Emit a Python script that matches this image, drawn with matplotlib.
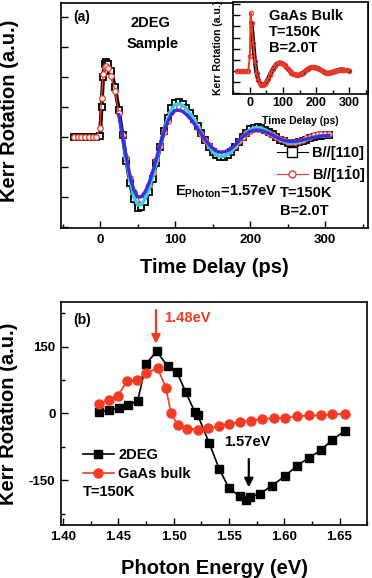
import matplotlib
matplotlib.use('Agg')
import matplotlib.pyplot as plt
from matplotlib.ticker import MultipleLocator, FormatStrFormatter, NullFormatter
from matplotlib.lines import Line2D

plt.rcParams['font.family'] = ['Liberation Sans', 'DejaVu Sans']
plt.rcParams['font.weight'] = 'bold'
plt.rcParams['axes.unicode_minus'] = False
plt.rcParams['mathtext.fontset'] = 'custom'
plt.rcParams['mathtext.rm'] = 'Liberation Sans:bold'
plt.rcParams['mathtext.bf'] = 'Liberation Sans:bold'

# ---- panel (a): time resolved Kerr rotation, 2DEG sample ----
t_early = [-35, -30, -25, -20, -15, -10, -5, 0, 2, 4, 6, 8, 10, 15, 20]
t_fit = [25, 30, 35, 40, 45, 50, 55, 60, 65, 70, 75, 80, 85, 90, 95, 100,
         105, 110, 115, 120, 125, 130, 135, 140, 145, 150, 155, 160, 165,
         170, 175, 180, 185, 190, 195, 200, 205, 210, 215, 220, 225, 230,
         235, 240, 245, 250, 255, 260, 265, 270, 275, 280, 285, 290, 295,
         300, 305]
t_data = t_early + t_fit

kerr_110 = [0, 0, 0, 0, 0, 0, 0, 0.05, 1.0, 2.0, 2.45, 2.5, 2.45, 2.2, 1.66,
            0.91, 0.07, -0.78, -1.53, -2.07, -2.35, -2.34, -2.16, -1.83,
            -1.39, -0.87, -0.33, 0.19, 0.63, 0.96, 1.14, 1.16, 1.11, 0.99,
            0.82, 0.61, 0.37, 0.13, -0.11, -0.32, -0.49, -0.61, -0.67, -0.66,
            -0.60, -0.49, -0.34, -0.17, 0.0, 0.15, 0.26, 0.32, 0.33, 0.30,
            0.25, 0.18, 0.09, 0.0, -0.08, -0.14, -0.19, -0.20, -0.19, -0.16,
            -0.12, -0.08, -0.04, 0.0, 0.03, 0.05, 0.07, 0.08]
kerr_1m10 = [0, 0, 0, 0, 0, 0, 0, 0.3, 1.3, 2.1, 2.35, 2.38, 2.3, 2.05, 1.55,
             0.80, 0.06, -0.68, -1.35, -1.83, -2.06, -2.05, -1.90, -1.60,
             -1.21, -0.75, -0.28, 0.17, 0.55, 0.85, 1.00, 1.02, 0.97, 0.86,
             0.71, 0.53, 0.32, 0.11, -0.09, -0.27, -0.42, -0.52, -0.57, -0.56,
             -0.51, -0.41, -0.29, -0.14, 0.0, 0.13, 0.22, 0.27, 0.28, 0.26,
             0.21, 0.15, 0.08, 0.0, -0.06, -0.11, -0.15, -0.16, -0.15, -0.12,
             -0.08, -0.03, 0.02, 0.06, 0.09, 0.11, 0.12, 0.12]
fit_110 = [0.87, 0.07, -0.75, -1.47, -1.99, -2.26, -2.25, -2.07, -1.76,
           -1.33, -0.84, -0.32, 0.18, 0.60, 0.92, 1.09, 1.11, 1.07, 0.95,
           0.79, 0.59, 0.36, 0.12, -0.11, -0.31, -0.47, -0.59, -0.64, -0.63,
           -0.58, -0.47, -0.33, -0.16, 0.0, 0.14, 0.25, 0.31, 0.32, 0.29,
           0.24, 0.17, 0.09, 0.0, -0.08, -0.13, -0.18, -0.19, -0.18, -0.15,
           -0.12, -0.08, -0.04, 0.0, 0.03, 0.04, 0.05, 0.06]
fit_1m10 = [0.75, 0.05, -0.66, -1.30, -1.76, -1.99, -1.99, -1.83, -1.55,
            -1.17, -0.73, -0.27, 0.15, 0.50, 0.76, 0.89, 0.90, 0.86, 0.76,
            0.63, 0.47, 0.28, 0.10, -0.08, -0.24, -0.37, -0.46, -0.50, -0.49,
            -0.45, -0.37, -0.26, -0.13, 0.0, 0.11, 0.19, 0.23, 0.24, 0.22,
            0.18, 0.13, 0.07, 0.0, -0.06, -0.10, -0.14, -0.15, -0.14, -0.12,
            -0.09, -0.06, -0.03, 0.0, 0.02, 0.04, 0.05, 0.06]

# inset: GaAs bulk
t_bulk = [-40, -35, -30, -25, -20, -15, -10, -5, 0, 2, 5, 10, 15, 20, 25, 30,
          35, 40, 45, 50, 55, 60, 65, 70, 75, 80, 85, 90, 95, 100, 105, 110,
          115, 120, 125, 130, 135, 140, 145, 150, 155, 160, 165, 170, 175,
          180, 185, 190, 195, 200, 205, 210, 215, 220, 225, 230, 235, 240,
          245, 250, 255, 260, 265, 270, 275, 280, 285, 290, 295, 300]
kerr_bulk = [0, 0, 0, 0, 0, 0, 0, 0, 1.3, 5.2, 4.3, 2.5, 0.9, -0.18, -0.8,
             -1.12, -1.26, -1.28, -1.18, -1.0, -0.72, -0.4, -0.09, 0.18, 0.4,
             0.58, 0.7, 0.74, 0.72, 0.65, 0.52, 0.36, 0.18, 0.0, -0.16, -0.27,
             -0.34, -0.38, -0.38, -0.34, -0.27, -0.18, -0.07, 0.05, 0.16, 0.25,
             0.32, 0.34, 0.33, 0.29, 0.22, 0.13, 0.04, -0.05, -0.12, -0.16,
             -0.18, -0.18, -0.15, -0.11, -0.05, 0.0, 0.05, 0.09, 0.11, 0.11,
             0.09, 0.05, 0.03, 0.0]

# ---- panel (b): Kerr rotation vs photon energy ----
e_2deg = [1.4322, 1.4412, 1.4502, 1.4584, 1.4674, 1.4749, 1.4845, 1.4945,
          1.5029, 1.5110, 1.5191, 1.5218, 1.5320, 1.5411, 1.5501, 1.5600,
          1.5655, 1.5690, 1.5781, 1.5886, 1.6004, 1.6112, 1.6223, 1.6329,
          1.6434, 1.6545]
kr_2deg = [3, 7, 13, 19, 28, 111, 139, 106, 92, 47, 3, -4, -66, -124, -168,
           -186, -193, -187, -180, -162, -141, -118, -99, -83, -59, -40]
e_bulk = [1.4322, 1.4412, 1.4494, 1.4578, 1.4668, 1.4749, 1.4855, 1.4930,
          1.4975, 1.5035, 1.5119, 1.5216, 1.5311, 1.5411, 1.5501, 1.5600,
          1.5697, 1.5802, 1.5907, 1.6004, 1.6112, 1.6223, 1.6329, 1.6434,
          1.6545]
kr_bulk = [21.6, 31, 40, 72, 75, 91, 101, 57, 0, -25, -34, -36, -33, -29,
           -23, -19, -16, -12, -11, -9.7, -6.7, -4.5, -4.5, -2.2, -0.7]

red = '#e8392a'
red_b = '#f53a22'

fig = plt.figure(figsize=(3.72, 5.78), dpi=100)

ax1 = fig.add_axes([0.164, 0.6055, 0.825, 0.389])
ax1.plot(t_data, kerr_110, '-s', color='black', mfc='white', mec='black',
         ms=5, mew=1.3, lw=2.8, zorder=2)
ax1.plot(t_data, kerr_1m10, '-o', color=red, mfc='white', mec=red,
         ms=4, mew=0.9, lw=1.0, zorder=3)
ax1.plot(t_fit[1:], fit_110[1:], color='#2fd3e6', lw=2.4, zorder=4)
ax1.plot(t_fit, fit_1m10, color='#3a2ee0', lw=2.4, zorder=5)
ax1.set_xlim(-52, 357)
ax1.set_ylim(-3.03, 4.47)
ax1.xaxis.set_major_locator(MultipleLocator(100))
ax1.xaxis.set_minor_locator(MultipleLocator(50))
ax1.yaxis.set_major_locator(MultipleLocator(1))
ax1.yaxis.set_major_formatter(NullFormatter())
ax1.set_xlabel('Time Delay (ps)', fontsize=14.5, fontweight='bold', labelpad=9)
ax1.set_ylabel('Kerr Rotation (a.u.)', fontsize=14.5, fontweight='bold')
ax1.yaxis.set_label_coords(-0.137, 0.52)

ax1.text(0.068, 0.938, '(a)', transform=ax1.transAxes, fontsize=10,
         ha='center', va='center')
ax1.text(0.29, 0.911, '2DEG', transform=ax1.transAxes, fontsize=10.5,
         ha='center', va='center')
ax1.text(0.30, 0.818, 'Sample', transform=ax1.transAxes, fontsize=10.5,
         ha='center', va='center')
ax1.text(0.371, 0.16, r'E$_{\mathbf{Photon}}$=1.57eV', transform=ax1.transAxes,
         fontsize=10.5, ha='left', va='center')

h1 = [Line2D([], [], color='black', marker='s', mfc='white', mec='black',
             ms=6.5, lw=0.8),
      Line2D([], [], color=red, marker='o', mfc='white', mec=red, ms=5,
             lw=0.8)]
leg1 = ax1.legend(h1, ['B//[110]', r'B//[1$\bar{\mathbf{1}}$0]'],
                  loc='upper left', bbox_to_anchor=(0.704, 0.365),
                  frameon=False, fontsize=10.5, handlelength=2.1,
                  handletextpad=0.3, labelspacing=0.3, borderpad=0,
                  borderaxespad=0)
ax1.text(0.713, 0.156, 'T=150K', transform=ax1.transAxes, fontsize=10.5,
         ha='left', va='center')
ax1.text(0.713, 0.076, 'B=2.0T', transform=ax1.transAxes, fontsize=10.5,
         ha='left', va='center')

ax_in = fig.add_axes([0.6255, 0.8374, 0.3637, 0.159])
ax_in.plot(t_bulk[10:], kerr_bulk[10:], color='black', lw=3.0, zorder=2)
ax_in.plot(t_bulk, kerr_bulk, '-o', color=red, mfc='none', mec=red,
           ms=3, mew=0.9, lw=1.4, zorder=3)
ax_in.set_xlim(-52, 357)
ax_in.set_ylim(-2.1, 6.2)
ax_in.xaxis.set_major_locator(MultipleLocator(100))
ax_in.xaxis.set_minor_locator(MultipleLocator(50))
ax_in.yaxis.set_major_locator(MultipleLocator(1))
ax_in.yaxis.set_major_formatter(NullFormatter())
ax_in.set_xlabel('Time Delay (ps)', fontsize=7.5, fontweight='bold', labelpad=5)
ax_in.set_ylabel('Kerr Rotation (a.u.)', fontsize=7.5, fontweight='bold', labelpad=5)
ax_in.text(0.268, 0.848, 'GaAs Bulk', transform=ax_in.transAxes,
           fontsize=10.5, ha='left', va='center')
ax_in.text(0.268, 0.674, 'T=150K', transform=ax_in.transAxes,
           fontsize=10.5, ha='left', va='center')
ax_in.text(0.268, 0.5, 'B=2.0T', transform=ax_in.transAxes,
           fontsize=10.5, ha='left', va='center')

ax2 = fig.add_axes([0.164, 0.0917, 0.823, 0.386])
ax2.plot(e_2deg, kr_2deg, '-s', color='black', ms=5.5, lw=1.2,
         label='2DEG', zorder=2)
ax2.plot(e_bulk, kr_bulk, '-o', color=red_b, ms=6.5, lw=1.2,
         label='GaAs bulk', zorder=3)
ax2.set_xlim(1.398, 1.675)
ax2.set_ylim(-250, 250)
ax2.xaxis.set_major_locator(MultipleLocator(0.05))
ax2.xaxis.set_minor_locator(MultipleLocator(0.025))
ax2.xaxis.set_major_formatter(FormatStrFormatter('%.2f'))
ax2.yaxis.set_major_locator(MultipleLocator(150))
ax2.yaxis.set_minor_locator(MultipleLocator(75))
ax2.set_xlabel('Photon Energy (eV)', fontsize=14.5, fontweight='bold', labelpad=12)
ax2.set_ylabel('Kerr Rotation (a.u.)', fontsize=14.5, fontweight='bold')
ax2.yaxis.set_label_coords(-0.14, 0.5)

ax2.text(0.069, 0.919, '(b)', transform=ax2.transAxes, fontsize=10,
         ha='center', va='center')
ax2.annotate('', xy=(1.4839, 150), xytext=(1.4839, 238),
             arrowprops=dict(arrowstyle='-|>', color=red_b, lw=1.6,
                             mutation_scale=13))
ax2.text(1.491, 215, '1.48eV', color=red_b, fontsize=10.5, ha='left',
         va='center')
ax2.annotate('', xy=(1.5679, -172), xytext=(1.5679, -96),
             arrowprops=dict(arrowstyle='-|>', color='black', lw=1.6,
                             mutation_scale=13))
ax2.text(1.567, -65, '1.57eV', color='black', fontsize=10.5, ha='center',
         va='center')
ax2.legend(loc='upper left', bbox_to_anchor=(0.072, 0.345), frameon=False,
           fontsize=10.5, handlelength=2.1, handletextpad=0.3,
           labelspacing=0.35, borderpad=0, borderaxespad=0)
ax2.text(0.072, 0.148, 'T=150K', transform=ax2.transAxes, fontsize=10.5,
         ha='left', va='center')

for ax in (ax1, ax_in, ax2):
    for s in ax.spines.values():
        s.set_linewidth(1.2)
    ax.tick_params(which='both', direction='in', width=1.0)
    ax.tick_params(which='major', length=5)
    ax.tick_params(which='minor', length=3)
    for lab in ax.get_xticklabels() + ax.get_yticklabels():
        lab.set_fontweight('bold')
ax1.tick_params(labelsize=9.5, pad=4)
ax_in.tick_params(labelsize=9, pad=2)
ax2.tick_params(labelsize=9.5, pad=4)

fig.savefig('out.png', dpi=100)
